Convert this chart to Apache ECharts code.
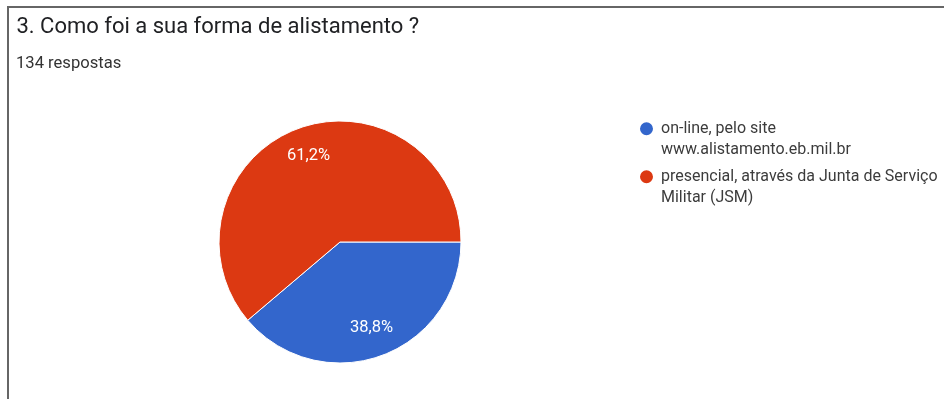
<!DOCTYPE html>
<html>
<head>
<meta charset="utf-8">
<script src="https://cdn.jsdelivr.net/npm/echarts@6/dist/echarts.min.js"></script>
<style>
html,body{margin:0;padding:0;background:#fff;}
#chart{width:944px;height:399px;}
</style>
</head>
<body>
<div id="chart"></div>
<script>
const titleText = '3. Como foi a sua forma de alistamento ?';
const subtitleText = '134 respostas';
const categories = ['on-line, pelo site\nwww.alistamento.eb.mil.br', 'presencial, através da Junta de Serviço\nMilitar (JSM)'];
const values = [52, 82];
const colors = ['#3366cc', '#dc3912'];

const total = values.reduce((a, b) => a + b, 0);
const data = categories.map((c, i) => ({ name: c, value: values[i], itemStyle: { color: colors[i] } }));

const chart = echarts.init(document.getElementById('chart'), null, { renderer: 'canvas' });
chart.setOption({
  animation: false,
  backgroundColor: '#fff',
  title: [
    { text: titleText, left: 16.5, top: 16, padding: 0, textStyle: { fontFamily: 'Roboto', fontSize: 22, fontWeight: 'normal', color: '#202124' } },
    { text: subtitleText, left: 16, top: 55.5, padding: 0, textStyle: { fontFamily: 'Roboto', fontSize: 16.6, fontWeight: 'normal', color: '#333' } }
  ],
  legend: {
    orient: 'vertical',
    left: 638,
    top: 96.5,
    padding: 0,
    itemWidth: 15,
    itemHeight: 15,
    itemGap: -16.5,
    icon: 'circle',
    selectedMode: false,
    data: categories,
    formatter: name => '\n' + name,
    textStyle: { fontFamily: 'Roboto', fontSize: 16, color: '#3c3c3c', lineHeight: 21.5, padding: [0, 0, 0, 2] }
  },
  graphic: [
    { type: 'line', shape: { x1: 7, y1: 7, x2: 944, y2: 7 }, style: { stroke: '#666', lineWidth: 2 } },
    { type: 'line', shape: { x1: 8, y1: 6, x2: 8, y2: 399 }, style: { stroke: '#666', lineWidth: 2 } }
  ],
  series: [
    {
      type: 'pie',
      center: [340, 242],
      radius: 121,
      startAngle: 0,
      clockwise: true,
      silent: true,
      label: { show: false },
      labelLine: { show: false },
      itemStyle: { borderColor: '#fff', borderWidth: 1 },
      data: data
    },
    {
      type: 'pie',
      center: [340, 242],
      radius: [56, 121],
      startAngle: 0,
      clockwise: true,
      silent: true,
      itemStyle: { color: 'rgba(0,0,0,0)' },
      label: {
        show: true,
        position: 'inside',
        fontFamily: 'Roboto',
        fontSize: 16.5,
        color: '#fff',
        formatter: p => (p.value / total * 100).toFixed(1).replace('.', ',') + '%'
      },
      labelLine: { show: false },
      data: categories.map((c, i) => ({ name: c, value: values[i] }))
    }
  ]
});
</script>
</body>
</html>
